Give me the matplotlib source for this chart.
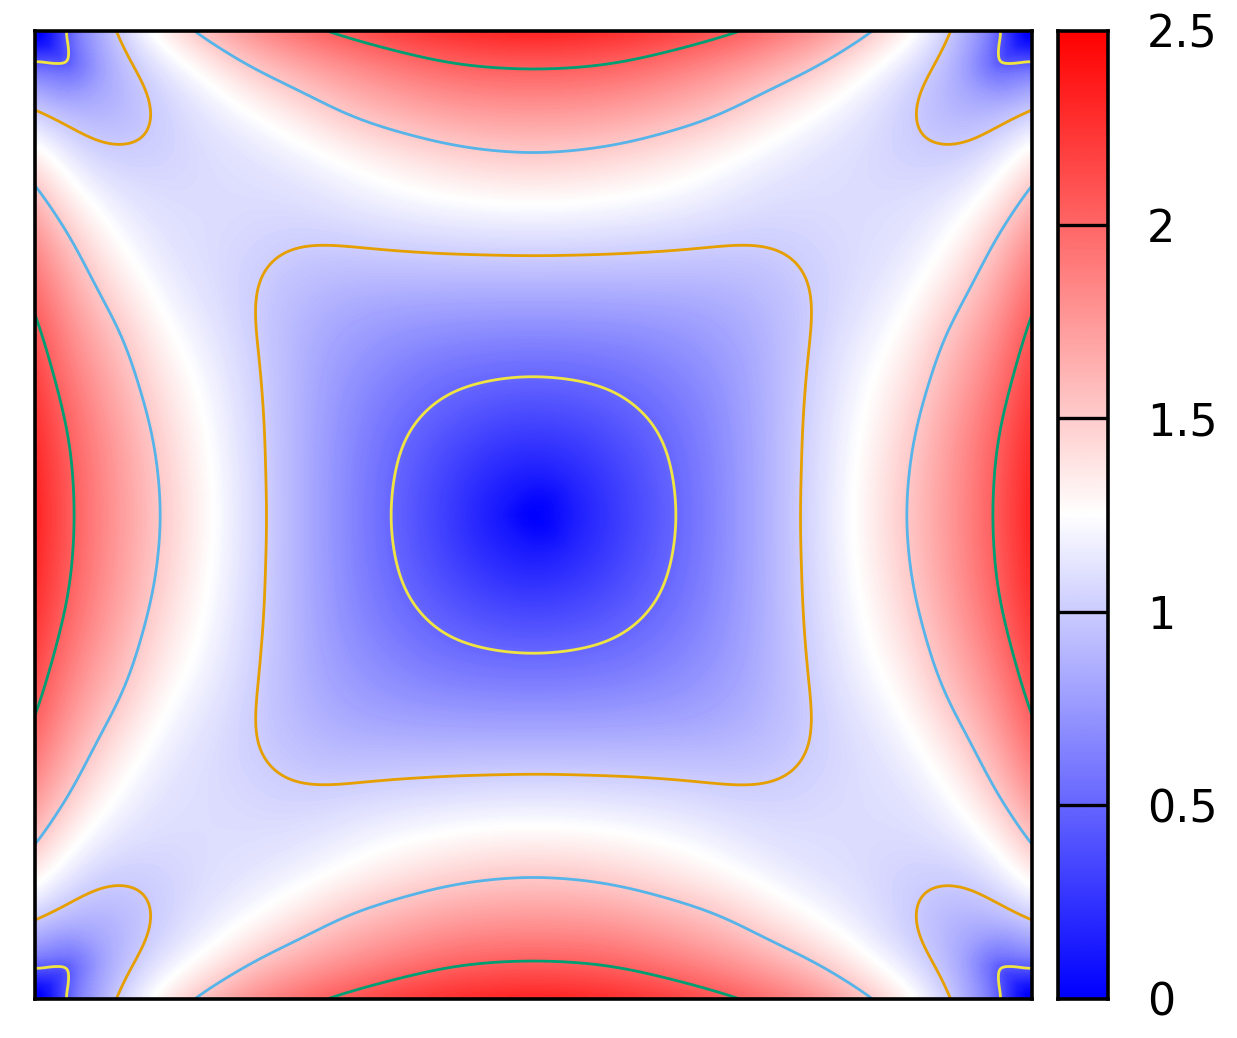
import numpy as np
import matplotlib
matplotlib.use("Agg")
import matplotlib.pyplot as plt
import matplotlib.tri as mtri
from matplotlib.colors import LinearSegmentedColormap

# Values at 13 x 13 points of one quadrant
# (centre of the map = row 0 / col 0, corner = row 12 / col 12); lower triangle, the map is mirrored.
row0 = [0.00]
row1 = [0.14, 0.20]
row2 = [0.28, 0.31, 0.39]
row3 = [0.43, 0.45, 0.49, 0.57]
row4 = [0.58, 0.59, 0.61, 0.65, 0.72]
row5 = [0.75, 0.75, 0.76, 0.77, 0.79, 0.85]
row6 = [0.92, 0.92, 0.92, 0.92, 0.92, 0.92, 0.96]
row7 = [1.11, 1.10, 1.09, 1.07, 1.05, 1.03, 1.03, 1.06]
row8 = [1.29, 1.28, 1.26, 1.23, 1.19, 1.13, 1.09, 1.09, 1.08]
row9 = [1.51, 1.49, 1.45, 1.39, 1.31, 1.23, 1.16, 1.10, 1.09, 1.01]
row10 = [1.73, 1.72, 1.70, 1.64, 1.58, 1.47, 1.33, 1.20, 1.11, 1.02, 0.86]
row11 = [1.97, 1.96, 1.93, 1.86, 1.77, 1.68, 1.57, 1.43, 1.23, 1.07, 0.90, 0.60]
row12 = [2.30, 2.28, 2.24, 2.18, 2.10, 2.00, 1.88, 1.74, 1.54, 1.31, 1.03, 0.65, 0.00]
rows = [row0, row1, row2, row3, row4, row5, row6, row7, row8, row9, row10, row11, row12]

contour_levels = [0.5, 1.0, 1.5, 2.0]
contour_colors = ["#f0e442", "#e69f00", "#56b4e9", "#009e73"]
cbar_ticks = [0, 0.5, 1, 1.5, 2, 2.5]
cbar_labels = ["0", "0.5", "1", "1.5", "2", "2.5"]

n = len(rows)
Q = np.zeros((n, n))
for r, vals in enumerate(rows):
    for c, v in enumerate(vals):
        Q[r, c] = v
        Q[c, r] = v
Z = np.concatenate([Q[:0:-1], Q], axis=0)
Z = np.concatenate([Z[:, :0:-1], Z], axis=1)
axis = np.arange(-(n - 1), n) / (n - 1)
X, Y = np.meshgrid(axis, axis)

tri = mtri.Triangulation(X.ravel(), Y.ravel())
interp = mtri.CubicTriInterpolator(tri, Z.ravel(), kind="geom")

m = 601
fx = np.linspace(-1, 1, m)
FX, FY = np.meshgrid(fx, fx)
raw = np.ma.filled(interp(FX, FY), np.nan)

# Take the reading noise out of the contours, leaving the sharp minima as they are.
sigma = 15
half = 3 * sigma
kernel = np.exp(-0.5 * (np.arange(-half, half + 1) / sigma) ** 2)
kernel /= kernel.sum()
padded = np.pad(raw, half, mode="reflect", reflect_type="odd")
padded = np.apply_along_axis(lambda s: np.convolve(s, kernel, mode="same"), 0, padded)
padded = np.apply_along_axis(lambda s: np.convolve(s, kernel, mode="same"), 1, padded)
smooth = padded[half:-half, half:-half]
w = np.clip((np.hypot(1 - np.abs(FX), 1 - np.abs(FY)) - 0.07) / 0.10, 0, 1)
w = w * np.clip((np.hypot(FX, FY) - 0.08) / 0.15, 0, 1)
FZ = w * smooth + (1 - w) * raw

step = m // 100
CZ = FZ[::step, ::step]

cmap = LinearSegmentedColormap.from_list("bwr2", ["#0000ff", "#ffffff", "#ff0000"])

W, H = 1237, 1038
fig = plt.figure(figsize=(W / 100, H / 100), dpi=100)
plt.rcParams["font.family"] = ["DejaVu Sans"]


def rect(x0, y0, x1, y1):
    return [x0 / W, 1 - y1 / H, (x1 - x0) / W, (y1 - y0) / H]


ax = fig.add_axes(rect(35, 31, 1032, 999))
ax.imshow(CZ, origin="lower", extent=[-1, 1, -1, 1], cmap=cmap, vmin=0, vmax=2.5,
          aspect="auto", interpolation="bilinear")
ax.contour(FX, FY, FZ, levels=contour_levels, colors=contour_colors, linewidths=2.0)
ax.set_xlim(-1, 1)
ax.set_ylim(-1, 1)
ax.set_xticks([])
ax.set_yticks([])
for s in ax.spines.values():
    s.set_linewidth(2.6)
    s.set_zorder(5)

cax = fig.add_axes(rect(1058, 31, 1108, 999))
grad = np.linspace(0, 2.5, 512).reshape(-1, 1)
cax.imshow(grad, origin="lower", extent=[0, 1, 0, 2.5], cmap=cmap, vmin=0, vmax=2.5, aspect="auto")
for t in cbar_ticks[1:-1]:
    cax.axhline(t, color="black", lw=2.4)
cax.set_xlim(0, 1)
cax.set_ylim(0, 2.5)
cax.set_xticks([])
cax.yaxis.tick_right()
cax.set_yticks(cbar_ticks)
cax.set_yticklabels(cbar_labels, fontsize=32)
cax.tick_params(axis="y", length=0, pad=28)
for s in cax.spines.values():
    s.set_linewidth(2.6)

fig.savefig("out.png", dpi=100)
